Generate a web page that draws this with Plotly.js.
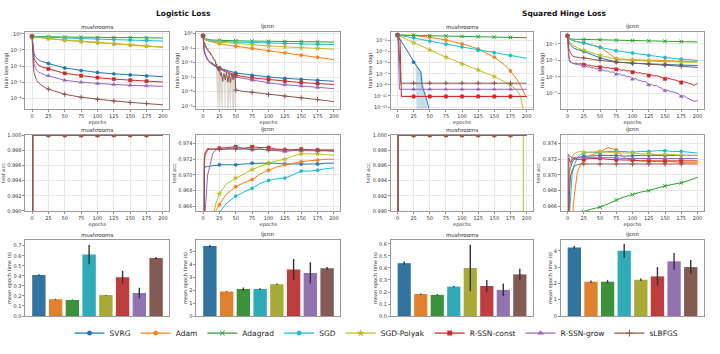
<!DOCTYPE html>
<html><head><meta charset="utf-8">
<script src="https://cdn.plot.ly/plotly-3.0.1.min.js"></script>
<style>html,body{margin:0;padding:0;background:#fff}#chart{width:720px;height:354px}</style>
</head><body><div id="chart"></div>
<script>
// ---------------- legend / methods ----------------
const METHODS = ['SVRG','Adam','Adagrad','SGD','SGD-Polyak','R-SSN-const','R-SSN-grow','sLBFGS'];
const COLORS = ['#1f77b4','#ff7f0e','#2ca02c','#17becf','#bcbd22','#d62728','#9467bd','#8c564b'];
const BAR_COLORS = ['#3274a1','#e1812c','#3a923a','#2eabb8','#a9aa35','#c03d3e','#9372b2','#845b53'];
const SYMBOLS = ['circle','circle','x-thin-open','circle','star','square','triangle-up','cross-thin-open'];
const SIZES = [3.3,3.3,3.6,3.3,3.8,3.3,3.8,3.6];

// ---------------- epoch grids ----------------
const G = [0,1,2,3,5,7,10,15,20,25,50,75,100,125,150,175,200];
const T = [0,1,2,3,5,7,10,15,20,25,35,50,62,75,87,100,112,125,137,150,162,175,187,200];
const N = [0,1,2,3,4,6,8,10,13,16,19,22,25,28,31,34,37,40,44,48,50,54,58,62,66,70,75,79,83,87,91,95,100,104,108,112,116,120,125,129,133,137,141,145,150,154,158,162,166,170,175,179,183,187,191,195,200];

// ---------------- Logistic loss, mushrooms: log10(train loss) on G ----------------
const LLM_SVRG   = [-0.16,-0.7,-1.0,-1.2,-1.4,-1.52,-1.62,-1.72,-1.79,-1.84,-2.12,-2.28,-2.4,-2.48,-2.55,-2.61,-2.66];
const LLM_ADAM   = [-0.16,-0.17,-0.18,-0.19,-0.2,-0.21,-0.23,-0.25,-0.28,-0.3,-0.4,-0.48,-0.56,-0.63,-0.7,-0.77,-0.84];
const LLM_ADAGRAD= [-0.16,-0.16,-0.16,-0.17,-0.17,-0.17,-0.18,-0.18,-0.18,-0.19,-0.2,-0.21,-0.22,-0.23,-0.24,-0.25,-0.26];
const LLM_SGD    = [-0.16,-0.16,-0.17,-0.17,-0.18,-0.18,-0.19,-0.2,-0.21,-0.22,-0.26,-0.3,-0.33,-0.36,-0.39,-0.42,-0.45];
const LLM_POLYAK = [-0.16,-0.17,-0.18,-0.19,-0.2,-0.21,-0.22,-0.24,-0.27,-0.29,-0.39,-0.47,-0.55,-0.62,-0.69,-0.75,-0.82];
const LLM_CONST  = [-0.16,-0.85,-1.25,-1.5,-1.7,-1.83,-1.95,-2.05,-2.12,-2.17,-2.45,-2.6,-2.72,-2.81,-2.88,-2.94,-2.99];
const LLM_GROW   = [-0.16,-1.05,-1.55,-1.85,-2.1,-2.25,-2.37,-2.48,-2.56,-2.6,-2.88,-3.0,-3.08,-3.14,-3.19,-3.23,-3.26];
const LLM_LBFGS  = [-0.16,-1.4,-2.0,-2.4,-2.72,-2.9,-3.05,-3.22,-3.34,-3.43,-3.75,-3.93,-4.06,-4.16,-4.25,-4.33,-4.4];

// ---------------- Logistic loss, ijcnn ----------------
const LLI_SVRG   = [-0.16,-0.9,-1.2,-1.4,-1.62,-1.78,-1.93,-2.1,-2.25,-2.39,-2.72,-2.88,-3.0,-3.09,-3.17,-3.23,-3.29];
const LLI_ADAM   = [-0.16,-0.32,-0.38,-0.42,-0.46,-0.5,-0.54,-0.6,-0.65,-0.7,-0.88,-1.03,-1.19,-1.33,-1.5,-1.64,-1.8];
const LLI_ADAGRAD= [-0.16,-0.28,-0.33,-0.36,-0.39,-0.41,-0.43,-0.45,-0.46,-0.47,-0.5,-0.52,-0.54,-0.55,-0.56,-0.58,-0.59];
const LLI_SGD    = [-0.16,-0.3,-0.36,-0.4,-0.44,-0.47,-0.49,-0.51,-0.53,-0.54,-0.59,-0.63,-0.66,-0.69,-0.71,-0.74,-0.76];
const LLI_POLYAK = [-0.16,-0.3,-0.37,-0.42,-0.47,-0.5,-0.53,-0.56,-0.58,-0.6,-0.7,-0.78,-0.86,-0.92,-0.98,-1.03,-1.08];
const LLI_CONST  = [-0.16,-0.95,-1.25,-1.45,-1.67,-1.83,-1.98,-2.15,-2.28,-2.4,-2.88,-3.06,-3.18,-3.29,-3.38,-3.45,-3.51];
const LLI_GROW   = [-0.16,-0.8,-1.15,-1.38,-1.62,-1.8,-1.98,-2.17,-2.32,-2.45,-3.0,-3.22,-3.4,-3.53,-3.63,-3.72,-3.8];
const LLI_LBFGS_X= [0,1,2,3,4,5,6,7,8,9,10,11,12,13,14,15,16,17,18,19,20,21,22,23,24,25,26,27,28,29,30,31,32,33,34,35,36,37,38,39,40,41,42,43,44,45,46,47,48,49,50,60,75,87,100,112,125,137,150,162,175,187,200];
const LLI_LBFGS  = [-0.16,-0.5,-0.75,-0.7,-0.95,-0.9,-1.1,-1.05,-1.25,-1.2,-1.35,-1.3,-1.5,-1.45,-1.6,-1.7,-1.65,-1.85,-1.8,-2.0,-2.2,-2.1,-2.5,-2.35,-2.6,-2.45,-2.8,-2.9,-2.7,-3.1,-3.3,-2.9,-2.75,-3.0,-3.2,-2.85,-2.7,-3.05,-3.35,-3.0,-2.8,-3.1,-3.4,-3.0,-2.75,-2.9,-3.2,-2.85,-2.7,-3.0,-3.9,-3.98,-4.05,-4.12,-4.2,-4.26,-4.32,-4.38,-4.43,-4.49,-4.55,-4.62,-4.7];
const LLI_BAND_X = [20,21,22,23,24,25,26,27,28,29,30,31,32,33,34,35,36,37,38,39,40,41,42,43,44,45,46,47,48,49,50];
const LLI_BAND_HI= [-2.0,-1.9,-2.3,-2.15,-2.4,-2.25,-2.6,-2.7,-2.5,-2.9,-3.1,-2.7,-2.55,-2.8,-3.0,-2.65,-2.5,-2.85,-3.15,-2.8,-2.6,-2.9,-3.2,-2.8,-2.55,-2.7,-3.0,-2.65,-2.5,-2.8,-3.7];
const LLI_BAND_LO= [-3.0,-5.5,-6,-6,-4,-6,-3.5,-6,-6,-4,-6,-3.5,-3.3,-6,-6,-3.5,-3.3,-6,-6,-6,-4,-6,-6,-3.7,-6,-6,-6,-6,-4,-6,-6];

// ---------------- Squared hinge, mushrooms (each series own epochs) ----------------
const SHM_SVRG_X  = [0,5,10,15,20,25,30,34,36,37,38,40,43,46,48,50];
const SHM_SVRG    = [0,-0.95,-1.9,-2.9,-3.9,-4.9,-5.7,-6.3,-6.7,-7.6,-9.2,-9.8,-10.8,-12,-13,-15];
const SHM_ADAM_X  = [0,5,10,15,20,25,50,75,100,125,150,165,175,185,190,195,200];
const SHM_ADAM    = [0,-0.02,-0.03,-0.05,-0.07,-0.1,-0.38,-0.9,-1.6,-2.5,-4.0,-5.3,-6.5,-8.0,-9.0,-10.2,-11.3];
const SHM_ADAGRAD_X=[0,25,50,75,100,125,150,175,200];
const SHM_ADAGRAD = [0,-0.07,-0.13,-0.19,-0.25,-0.31,-0.38,-0.44,-0.5];
const SHM_SGD_X   = [0,5,10,15,20,25,50,75,100,125,150,175,200];
const SHM_SGD     = [0,-0.1,-0.2,-0.3,-0.4,-0.5,-1.1,-1.65,-2.15,-2.75,-3.2,-3.7,-4.2];
const SHM_POLYAK_X= [0,25,50,75,100,125,150,175,185,190,194,197];
const SHM_POLYAK  = [0,-1.4,-2.7,-4.0,-5.2,-6.3,-7.5,-9.0,-10.0,-10.9,-12.5,-14.5];
const SHM_CONST_X = [0,4,6,25,50,75,100,125,150,175,200];
const SHM_CONST   = [0,-1,-11.1,-11.1,-11.1,-11.1,-11.1,-11.1,-11.1,-11.1,-11.1];
const SHM_GROW_X  = [0,1,3,25,50,75,100,125,150,175,200];
const SHM_GROW    = [0,-1,-9.8,-9.8,-9.8,-9.8,-9.8,-9.8,-9.8,-9.8,-9.8];
const SHM_LBFGS_X = [0,2,5,25,50,75,100,125,150,175,200];
const SHM_LBFGS   = [0,-1.5,-8.7,-8.7,-8.7,-8.7,-8.7,-8.7,-8.7,-8.7,-8.7];
const SHM_BAND_X  = [28,30,34,36,38,40,43,46];
const SHM_BAND_HI = [-5.0,-5.3,-6.0,-6.4,-7.0,-9.0,-10.5,-12];
const SHM_BAND_LO = [-5.8,-15,-15,-15,-15,-15,-15,-15];

// ---------------- Squared hinge, ijcnn ----------------
const SHI_SVRG   = [0,-0.5,-0.75,-0.95,-1.2,-1.38,-1.52,-1.68,-1.8,-1.9,-2.7,-3.2,-3.35,-3.45,-3.52,-3.57,-3.62];
const SHI_ADAM   = [0,-0.25,-0.35,-0.42,-0.5,-0.57,-0.63,-0.72,-0.8,-0.88,-1.38,-2.8,-2.92,-3.0,-3.07,-3.12,-3.17];
const SHI_ADAGRAD= [0,-0.25,-0.32,-0.36,-0.39,-0.41,-0.42,-0.43,-0.44,-0.45,-0.5,-0.55,-0.59,-0.63,-0.67,-0.71,-0.75];
const SHI_SGD    = [0,-0.25,-0.35,-0.42,-0.5,-0.57,-0.63,-0.72,-0.8,-0.88,-1.41,-1.82,-2.1,-2.4,-2.65,-2.85,-3.0];
const SHI_POLYAK = [0,-0.4,-0.6,-0.75,-0.95,-1.1,-1.25,-1.45,-1.6,-1.75,-2.4,-2.85,-3.0,-3.1,-3.15,-3.2,-3.25];
const SHI_CONST  = [0,-1.6,-2.4,-2.9,-3.1,-3.25,-3.3,-3.38,-3.32,-3.45,-3.4,-3.5,-3.52,-3.48,-3.62,-3.58,-3.7,-3.65,-3.78,-3.72,-3.85,-3.8,-3.92,-3.88,-3.98,-3.95,-4.1,-4.05,-4.2,-4.15,-4.3,-4.25,-4.45,-4.4,-4.55,-4.5,-4.65,-4.6,-4.85,-4.75,-4.9,-4.85,-5.0,-5.05,-5.25,-5.15,-5.3,-5.35,-5.4,-5.5,-5.7,-5.6,-5.75,-5.8,-5.9,-6.05,-5.8];
const SHI_GROW   = [0,-1.9,-2.7,-3.05,-3.2,-3.3,-3.42,-3.38,-3.5,-3.45,-3.6,-3.55,-3.73,-3.68,-3.82,-3.78,-3.92,-3.88,-4.05,-4.0,-4.2,-4.15,-4.3,-4.28,-4.45,-4.4,-4.7,-4.62,-4.8,-4.78,-5.0,-4.95,-5.3,-5.2,-5.4,-5.45,-5.6,-5.55,-6.0,-5.9,-6.1,-6.05,-6.3,-6.4,-6.7,-6.6,-6.8,-6.85,-7.0,-7.05,-7.4,-7.3,-7.55,-7.7,-7.85,-8.0,-7.9];
const SHI_LBFGS  = [0,-1.0,-1.5,-1.8,-2.2,-2.4,-2.55,-2.65,-2.68,-2.7,-3.0,-3.2,-3.35,-3.48,-3.6,-3.72,-3.85];

// ---------------- test accuracy ----------------
const MA_X = [0,1,25,50,75,100,125,150,175,200];
const MA_ALL = [0.5,1,1,1,1,1,1,1,1,1];
const MSA_POLYAK_X = [0,1,25,50,75,100,125,150,175,195,196,200];
const MSA_POLYAK = [0.5,1,1,1,1,1,1,1,1,1,0.5,0.5];

const LIA_SVRG   = [0.905,0.9695,0.9708,0.971,0.9711,0.9711,0.9711,0.9712,0.9712,0.9713,0.9713,0.9713,0.9714,0.9715,0.9715,0.9715,0.9715,0.9714,0.9714,0.9714,0.9714,0.9714,0.9715,0.9715];
const LIA_ADAM   = [0.905,0.92,0.93,0.94,0.95,0.955,0.96,0.964,0.9655,0.9662,0.9675,0.9685,0.969,0.9694,0.9701,0.9706,0.971,0.9713,0.9715,0.9717,0.9718,0.9719,0.972,0.972];
const LIA_ADAGRAD= [0.905,0.91,0.915,0.92,0.925,0.93,0.935,0.94,0.945,0.948,0.95,0.952,0.953,0.954,0.955,0.956,0.957,0.958,0.959,0.96,0.96,0.961,0.961,0.962];
const LIA_SGD    = [0.905,0.92,0.93,0.935,0.945,0.95,0.955,0.96,0.963,0.9652,0.9663,0.9673,0.9678,0.9683,0.9689,0.9693,0.9695,0.9696,0.97,0.9705,0.9705,0.9706,0.9708,0.9709];
const LIA_POLYAK = [0.905,0.93,0.94,0.95,0.955,0.958,0.961,0.9645,0.9665,0.9676,0.9688,0.9696,0.9701,0.9707,0.9711,0.9715,0.9718,0.972,0.9724,0.9727,0.9727,0.9727,0.9726,0.9725];
const LIA_CONST  = [0.905,0.966,0.9715,0.9725,0.973,0.9732,0.9733,0.9733,0.9733,0.9734,0.9735,0.9736,0.9734,0.9736,0.9735,0.9735,0.9733,0.9732,0.9732,0.9733,0.9732,0.9732,0.9732,0.9732];
const LIA_GROW   = [0.905,0.95,0.96,0.965,0.9685,0.97,0.971,0.9728,0.9732,0.9733,0.9733,0.9735,0.9734,0.9732,0.9733,0.9732,0.9731,0.973,0.9731,0.9731,0.9731,0.9731,0.9731,0.973];
const LIA_LBFGS  = [0.905,0.9655,0.972,0.9728,0.9732,0.9734,0.9733,0.9733,0.9733,0.9733,0.9733,0.9733,0.9733,0.9733,0.9733,0.9732,0.9732,0.9732,0.9732,0.9732,0.9732,0.9731,0.9731,0.9731];

const SIA_SVRG   = [0.905,0.965,0.969,0.9705,0.9712,0.9716,0.972,0.9722,0.9723,0.9724,0.9724,0.9725,0.9725,0.9725,0.9724,0.9725,0.9725,0.9725,0.9725,0.9725,0.9725,0.9725,0.9725,0.9725];
const SIA_ADAM   = [0.905,0.94,0.95,0.955,0.96,0.964,0.967,0.9703,0.9713,0.9718,0.9725,0.9729,0.9735,0.9732,0.9722,0.9719,0.9718,0.9718,0.9717,0.9717,0.9717,0.9716,0.9716,0.9716];
const SIA_ADAGRAD= [0.905,0.93,0.94,0.95,0.955,0.958,0.961,0.9645,0.965,0.9653,0.9656,0.9659,0.9663,0.9668,0.9672,0.9675,0.9678,0.968,0.9683,0.9686,0.9688,0.969,0.9693,0.9697];
const SIA_SGD    = [0.905,0.955,0.962,0.965,0.968,0.97,0.9712,0.9722,0.9726,0.9728,0.9729,0.9729,0.973,0.973,0.973,0.9729,0.973,0.973,0.9731,0.9731,0.973,0.973,0.9729,0.9728];
const SIA_POLYAK = [0.905,0.96,0.967,0.97,0.9718,0.9724,0.9727,0.9729,0.973,0.9729,0.9729,0.973,0.9729,0.9728,0.9728,0.9728,0.9727,0.9727,0.9726,0.9726,0.9726,0.9725,0.9725,0.9725];
const SIA_CONST  = [0.905,0.968,0.9722,0.9718,0.9716,0.972,0.9721,0.972,0.972,0.972,0.9721,0.9721,0.972,0.9719,0.9719,0.9719,0.9718,0.9718,0.9718,0.9718,0.9718,0.9718,0.9718,0.9718];
const SIA_GROW   = [0.905,0.9727,0.9726,0.9724,0.9723,0.9722,0.9722,0.9722,0.9722,0.9722,0.9722,0.9722,0.9722,0.9722,0.9721,0.9721,0.9721,0.9721,0.9721,0.9721,0.9721,0.9721,0.9721,0.9721];
const SIA_LBFGS  = [0.905,0.955,0.965,0.968,0.97,0.9705,0.9711,0.9713,0.9714,0.9714,0.9714,0.9714,0.9714,0.9714,0.9714,0.9714,0.9714,0.9714,0.9714,0.9714,0.9714,0.9714,0.9714,0.9714];

// ---------------- mean epoch time (s) ----------------
const BAR_LLM = [0.408,0.166,0.16,0.612,0.209,0.387,0.228,0.577];
const ERR_LLM = [0.008,0.005,0.004,0.096,0.004,0.063,0.053,0.01];
const BAR_LLI = [5.38,1.88,2.07,2.07,2.44,3.58,3.32,3.67];
const ERR_LLI = [0.08,0.03,0.13,0.06,0.06,0.8,0.81,0.1];
const BAR_SHM = [0.44,0.183,0.176,0.245,0.4,0.25,0.218,0.347];
const ERR_SHM = [0.015,0.005,0.005,0.006,0.193,0.05,0.052,0.046];
const BAR_SHI = [4.2,2.1,2.1,4.0,2.22,2.43,3.35,3.0];
const ERR_SHI = [0.1,0.08,0.1,0.43,0.08,0.57,0.51,0.43];

// ---------------- build ----------------
const FONT = 'DejaVu Sans, Liberation Sans, sans-serif';
const data = [];
const P10 = v => Math.pow(10, v);
const axn = i => (i === 1 ? '' : String(i));

function markerStyle(m, size) {
  const thin = SYMBOLS[m].indexOf('thin') >= 0;
  return {symbol: SYMBOLS[m], size: size || SIZES[m], color: COLORS[m],
          line: {color: COLORS[m], width: thin ? 1 : 0.4}};
}
function addSeries(ax, xs, ys, m, isLog) {
  const yv = isLog ? ys.map(P10) : ys.slice();
  const xa = 'x' + axn(ax), ya = 'y' + axn(ax);
  data.push({type:'scatter', mode:'lines', x:xs, y:yv, xaxis:xa, yaxis:ya,
             line:{color:COLORS[m], width:1}, showlegend:false, hoverinfo:'skip'});
  const mx = [], my = [];
  xs.forEach((x, i) => { if (x % 25 === 0 && x < 200) { mx.push(x); my.push(yv[i]); } });
  data.push({type:'scatter', mode:'markers', x:mx, y:my, xaxis:xa, yaxis:ya,
             marker:markerStyle(m), showlegend:false, hoverinfo:'skip'});
}
function addBand(ax, xs, lo, hi, color) {
  const xa = 'x' + axn(ax), ya = 'y' + axn(ax);
  data.push({type:'scatter', mode:'lines', x:xs, y:lo.map(P10), xaxis:xa, yaxis:ya, line:{width:0, color:color}, showlegend:false, hoverinfo:'skip'});
  data.push({type:'scatter', mode:'lines', x:xs, y:hi.map(P10), xaxis:xa, yaxis:ya, line:{width:0, color:color}, fill:'tonexty', fillcolor:color, showlegend:false, hoverinfo:'skip'});
}
function addBars(ax, vals, errs) {
  data.push({type:'bar', x:METHODS, y:vals, width:0.8, xaxis:'x'+axn(ax), yaxis:'y'+axn(ax),
             marker:{color:BAR_COLORS, line:{width:0}},
             error_y:{type:'data', array:errs, visible:true, color:'#333333', thickness:1.4, width:0},
             showlegend:false, hoverinfo:'skip'});
}

// panel 1
[LLM_SVRG,LLM_ADAM,LLM_ADAGRAD,LLM_SGD,LLM_POLYAK,LLM_CONST,LLM_GROW,LLM_LBFGS].forEach((s,m)=>addSeries(1,G,s,m,true));
// panel 2
addBand(2, LLI_BAND_X, LLI_BAND_LO, LLI_BAND_HI, 'rgba(140,120,95,0.28)');
[LLI_SVRG,LLI_ADAM,LLI_ADAGRAD,LLI_SGD,LLI_POLYAK,LLI_CONST,LLI_GROW].forEach((s,m)=>addSeries(2,G,s,m,true));
addSeries(2, LLI_LBFGS_X, LLI_LBFGS, 7, true);
// panel 3
addBand(3, SHM_BAND_X, SHM_BAND_LO, SHM_BAND_HI, 'rgba(31,119,180,0.25)');
[[SHM_SVRG_X,SHM_SVRG],[SHM_ADAM_X,SHM_ADAM],[SHM_ADAGRAD_X,SHM_ADAGRAD],[SHM_SGD_X,SHM_SGD],
 [SHM_POLYAK_X,SHM_POLYAK],[SHM_CONST_X,SHM_CONST],[SHM_GROW_X,SHM_GROW],[SHM_LBFGS_X,SHM_LBFGS]]
 .forEach((p,m)=>addSeries(3,p[0],p[1],m,true));
// panel 4
[SHI_SVRG,SHI_ADAM,SHI_ADAGRAD,SHI_SGD,SHI_POLYAK].forEach((s,m)=>addSeries(4,G,s,m,true));
addSeries(4, N, SHI_CONST, 5, true);
addSeries(4, N, SHI_GROW, 6, true);
addSeries(4, G, SHI_LBFGS, 7, true);
// panel 5, 7 (mushrooms test acc)
METHODS.forEach((_,m)=>addSeries(5, MA_X, MA_ALL, m, false));
METHODS.forEach((_,m)=>{ if (m === 4) addSeries(7, MSA_POLYAK_X, MSA_POLYAK, m, false); else addSeries(7, MA_X, MA_ALL, m, false); });
// panel 6, 8
[LIA_SVRG,LIA_ADAM,LIA_ADAGRAD,LIA_SGD,LIA_POLYAK,LIA_CONST,LIA_GROW,LIA_LBFGS].forEach((s,m)=>addSeries(6,T,s,m,false));
[SIA_SVRG,SIA_ADAM,SIA_ADAGRAD,SIA_SGD,SIA_POLYAK,SIA_CONST,SIA_GROW,SIA_LBFGS].forEach((s,m)=>addSeries(8,T,s,m,false));
// bars
addBars(9, BAR_LLM, ERR_LLM);
addBars(10, BAR_LLI, ERR_LLI);
addBars(11, BAR_SHM, ERR_SHM);
addBars(12, BAR_SHI, ERR_SHI);
// legend entries
METHODS.forEach((name,m)=>data.push({type:'scatter', mode:'lines+markers', x:[null], y:[null], name:name,
  xaxis:'x5', yaxis:'y5', line:{color:COLORS[m], width:1.3}, marker:markerStyle(m, SIZES[m]+1.2), showlegend:true}));

// ---------------- layout ----------------
const XD = [[0.0354,0.2354],[0.2729,0.4729],[0.5431,0.7403],[0.7792,0.9778]];
const YD = [[0.6935,0.9082],[0.4040,0.6186],[0.1073,0.3220]];
const EPOCH_TICKS = [0,25,50,75,100,125,150,175,200];
const SUPS = {'0':'\u2070','1':'\u00b9','2':'\u00b2','3':'\u00b3','4':'\u2074','5':'\u2075','6':'\u2076','7':'\u2077','8':'\u2078','9':'\u2079','-':'\u207b'};
const sup = e => '10' + String(e).split('').map(ch => SUPS[ch]).join('');

function base() {
  return {showline:true, mirror:true, linecolor:'#9a9a9a', linewidth:1, showgrid:true, gridcolor:'#e2e2e2', gridwidth:0.8,
          zeroline:false, ticks:'outside', ticklen:2, tickwidth:0.8, tickcolor:'#777',
          tickfont:{size:5, color:'#333', family:FONT}, automargin:false};
}
const layout = {width:720, height:354, margin:{l:0,r:0,t:0,b:0}, paper_bgcolor:'#fff', plot_bgcolor:'#fff',
  font:{family:FONT, color:'#222'}, hovermode:false, showlegend:true,
  legend:{orientation:'h', traceorder:'normal', x:0.523, xanchor:'center', y:0.059, yanchor:'middle',
          font:{size:7.5, family:FONT, color:'#222'}, itemwidth:30, bgcolor:'rgba(0,0,0,0)'},
  annotations:[], bargap:0.2};

const names = ['mushrooms','ijcnn','mushrooms','ijcnn'];
const logCfg = {1:{exps:[0,-1,-2,-3,-4], range:[-4.63,0.08]}, 2:{exps:[0,-1,-2,-3,-4,-5], range:[-5.17,0.07]},
                3:{exps:[-1,-3,-5,-7,-9,-11,-13], range:[-13.27,0.45]}, 4:{exps:[-1,-3,-5,-7], range:[-8.87,0.4]}};
const barCfg = {9:{range:[0,0.757], dtick:0.1, fmt:'.1f'}, 10:{range:[0,5.85], dtick:1, fmt:'d'},
                11:{range:[0,0.633], dtick:0.1, fmt:'.1f'}, 12:{range:[0,4.66], dtick:1, fmt:'d'}};

for (let r = 0; r < 3; r++) {
  for (let c = 0; c < 4; c++) {
    const i = r*4 + c + 1;
    const xa = base(), ya = base();
    xa.domain = XD[c]; ya.domain = YD[r];
    xa.anchor = 'y' + axn(i); ya.anchor = 'x' + axn(i);
    if (r < 2) {
      xa.range = [-10, 210]; xa.tickmode = 'array'; xa.tickvals = EPOCH_TICKS;
      xa.title = {text:'epochs', font:{size:5, family:FONT, color:'#333'}, standoff:1};
    } else {
      xa.type = 'category'; xa.range = [-0.8, 7.8]; xa.showticklabels = false; xa.ticks = ''; xa.showgrid = false;
    }
    if (r === 0) {
      const cfg = logCfg[i];
      ya.type = 'log'; ya.range = cfg.range; ya.tickmode = 'array';
      ya.tickvals = cfg.exps.map(P10); ya.ticktext = cfg.exps.map(sup);
      ya.title = {text:'train loss (log)', font:{size:5, family:FONT, color:'#333'}, standoff:1};
    } else if (r === 1) {
      if (c % 2 === 0) { ya.range = [0.99, 1.0]; ya.tickmode='linear'; ya.tick0 = 0.99; ya.dtick = 0.002; }
      else { ya.range = [0.9654, 0.9751]; ya.tickmode='linear'; ya.tick0 = 0.966; ya.dtick = 0.002; }
      ya.tickformat = '.3f';
      ya.title = {text:'test acc', font:{size:5, family:FONT, color:'#333'}, standoff:1};
    } else {
      const cfg = barCfg[i];
      ya.range = cfg.range; ya.tickmode = 'linear'; ya.tick0 = 0; ya.dtick = cfg.dtick; ya.tickformat = cfg.fmt;
      ya.showgrid = false;
      ya.title = {text:'mean epoch time (s)', font:{size:5, family:FONT, color:'#333'}, standoff:1};
    }
    layout['xaxis' + axn(i)] = xa;
    layout['yaxis' + axn(i)] = ya;
    layout.annotations.push({text:names[c], xref:'paper', yref:'paper', x:(XD[c][0]+XD[c][1])/2, y:YD[r][1],
      xanchor:'center', yanchor:'bottom', yshift:0.5, showarrow:false, font:{size:5.5, family:FONT, color:'#222'}});
  }
}
layout.annotations.push({text:'Logistic Loss', xref:'paper', yref:'paper', x:183/720, y:1-14/354, xanchor:'center', yanchor:'middle',
  showarrow:false, font:{size:7.5, family:FONT, color:'#111', weight:'bold'}});
layout.annotations.push({text:'Squared Hinge Loss', xref:'paper', yref:'paper', x:564/720, y:1-14/354, xanchor:'center', yanchor:'middle',
  showarrow:false, font:{size:7.5, family:FONT, color:'#111', weight:'bold'}});

Plotly.newPlot('chart', data, layout, {staticPlot:true, displayModeBar:false});
</script></body></html>
